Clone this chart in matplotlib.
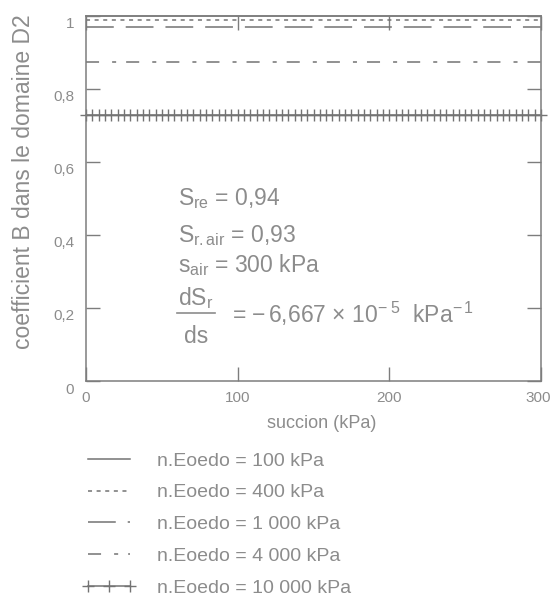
import numpy as np
import matplotlib
matplotlib.use('Agg')
import matplotlib.pyplot as plt
from matplotlib.lines import Line2D
import matplotlib.transforms as mtransforms

# ---- data ----
succion = np.linspace(0, 300, 73)   # suction grid (kPa)
series_labels = ['n.Eoedo = 100 kPa', 'n.Eoedo = 400 kPa', 'n.Eoedo = 1 000 kPa',
                 'n.Eoedo = 4 000 kPa', 'n.Eoedo = 10 000 kPa']
B_values = [1.0, 0.987, 0.968, 0.874, 0.728]
xticks = [0, 100, 200, 300]
xticklabels = ['0', '100', '200', '300']
yticks = [0, 0.2, 0.4, 0.6, 0.8, 1.0]
yticklabels = ['0', '0,2', '0,4', '0,6', '0,8', '1']

plt.rcParams['font.family'] = ['Liberation Sans', 'DejaVu Sans']
plt.rcParams['mathtext.fontset'] = 'custom'
plt.rcParams['mathtext.rm'] = 'Liberation Sans'
plt.rcParams['mathtext.it'] = 'Liberation Sans:italic'
plt.rcParams['mathtext.bf'] = 'Liberation Sans:bold'
plt.rcParams['lines.scale_dashes'] = False

W, H = 552, 596
TXT = '#8c8c8c'
LN = '#737373'
FR = '#7d7d7d'

def fx(x):
    return x / W

def fy(y):
    return 1 - y / H

fig = plt.figure(figsize=(W / 100, H / 100), dpi=100)
ax = fig.add_axes([fx(86), fy(381), 455 / W, 365.5 / H])
ax.set_xlim(0, 300)
ax.set_ylim(0, 1)

styles = [
    dict(linestyle='-'),
    dict(linestyle=(0, (2.9, 3.3))),
    dict(linestyle=(0, (20, 8.6))),
    dict(linestyle=(0, (9.4, 9.4, 2.9, 7.2))),
    dict(linestyle='-', marker='+', markersize=8, markeredgewidth=1.0),
]
handles = []
for B, lab, st in zip(B_values, series_labels, styles):
    h, = ax.plot(succion, np.full_like(succion, B), color=LN, lw=1.1,
                 label=lab, clip_on=False, **st)
    handles.append(h)

for sp in ax.spines.values():
    sp.set_color(FR)
    sp.set_linewidth(1.1)

ax.set_xticks(xticks)
ax.set_xticklabels(xticklabels)
ax.set_yticks(yticks)
ax.set_yticklabels(yticklabels)
ax.tick_params(direction='in', length=10, width=1.0, color=FR, labelcolor=TXT,
               labelsize=11, top=True, right=True)
ax.tick_params(axis='x', pad=7)
ax.tick_params(axis='y', pad=8.6)

off = mtransforms.ScaledTranslation(0, -7 / 100, fig.dpi_scale_trans)
for lbl in ax.get_yticklabels():
    lbl.set_transform(lbl.get_transform() + off)
xlbls = ax.get_xticklabels()
xlbls[-1].set_transform(xlbls[-1].get_transform() +
                        mtransforms.ScaledTranslation(-3 / 100, 0, fig.dpi_scale_trans))

ax.set_xlabel('succion (kPa)', fontsize=13, color=TXT)
ax.xaxis.label.set_va('center')
ax.xaxis.set_label_coords((322 - 86) / 455, (381 - 423) / 365.5)
ax.set_ylabel('coefficient B dans le domaine D2', fontsize=16.5, color=TXT)
ax.yaxis.label.set_va('center')
ax.yaxis.set_label_coords((24 - 86) / 455, (381 - 182) / 365.5)

# annotations
fs = 16.5
fig.text(fx(178), fy(205), r'S$_{\mathrm{re}}$ = 0,94', fontsize=fs, color=TXT, va='baseline')
fig.text(fx(178), fy(242), r'S$_{\mathrm{r.air}}$ = 0,93', fontsize=fs, color=TXT, va='baseline')
fig.text(fx(178), fy(272), r's$_{\mathrm{air}}$ = 300 kPa', fontsize=fs, color=TXT, va='baseline')
fig.text(fx(178), fy(305), r'dS$_{\mathrm{r}}$', fontsize=fs, color=TXT, va='baseline')
fig.text(fx(196), fy(343), 'ds', fontsize=fs, color=TXT, va='baseline', ha='center')
fig.add_artist(Line2D([fx(177), fx(215)], [fy(313), fy(313)], color=TXT, lw=1.2))
fig.text(fx(232), fy(323), r'= $-\,$6,667 × 10$^{-\;5}$  kPa$^{-\,1}$', fontsize=fs,
         color=TXT, va='baseline')

leg = ax.legend(handles=handles, loc='upper left', bbox_to_anchor=(fx(82), fy(452)),
                bbox_transform=fig.transFigure, frameon=False, handlelength=2.77,
                handletextpad=1.07, borderpad=0, borderaxespad=0, labelspacing=0.73,
                numpoints=3, fontsize=14, labelcolor=TXT)

fig.savefig('out.png', dpi=100)
